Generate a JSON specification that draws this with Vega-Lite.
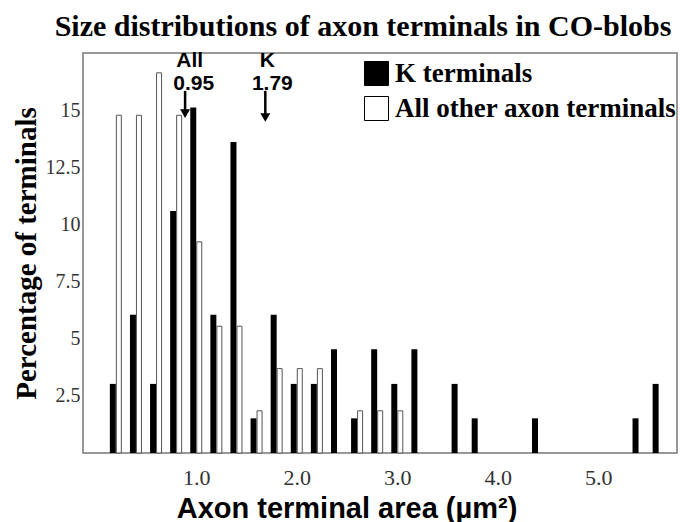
{
  "$schema": "https://vega.github.io/schema/vega-lite/v6.json",
  "width": 594,
  "height": 400,
  "autosize": {"type": "none"},
  "padding": {"left": 83, "top": 53, "right": 3, "bottom": 69},
  "background": "white",
  "title": {
    "text": "Size distributions of  axon terminals in CO-blobs",
    "font": "Liberation Serif",
    "fontWeight": "bold",
    "fontSize": 30,
    "color": "black",
    "anchor": "middle",
    "frame": "group",
    "dx": -17,
    "dy": 32,
    "offset": 16,
    "baseline": "alphabetic"
  },
  "config": {
    "view": {"stroke": "#777", "strokeWidth": 1.5},
    "axis": {"grid": false, "ticks": false, "tickSize": 0, "domain": false},
    "legend": {
      "orient": "none",
      "legendX": 280,
      "legendY": 7,
      "padding": 0,
      "symbolType": "square",
      "symbolSize": 576,
      "symbolStrokeColor": "black",
      "symbolStrokeWidth": 1,
      "labelFont": "Liberation Serif",
      "labelFontWeight": "bold",
      "labelFontSize": 27,
      "labelColor": "black",
      "labelOffset": 5,
      "rowPadding": 6,
      "labelLimit": 400
    }
  },
  "datasets": {
    "bars": [
      {"area": 0.2, "series": "K terminals", "pct": 3.03},
      {"area": 0.4, "series": "K terminals", "pct": 6.06},
      {"area": 0.6, "series": "K terminals", "pct": 3.03},
      {"area": 0.8, "series": "K terminals", "pct": 10.61},
      {"area": 1.0, "series": "K terminals", "pct": 15.15},
      {"area": 1.2, "series": "K terminals", "pct": 6.06},
      {"area": 1.4, "series": "K terminals", "pct": 13.64},
      {"area": 1.6, "series": "K terminals", "pct": 1.52},
      {"area": 1.8, "series": "K terminals", "pct": 6.06},
      {"area": 2.0, "series": "K terminals", "pct": 3.03},
      {"area": 2.2, "series": "K terminals", "pct": 3.03},
      {"area": 2.4, "series": "K terminals", "pct": 4.55},
      {"area": 2.6, "series": "K terminals", "pct": 1.52},
      {"area": 2.8, "series": "K terminals", "pct": 4.55},
      {"area": 3.0, "series": "K terminals", "pct": 3.03},
      {"area": 3.2, "series": "K terminals", "pct": 4.55},
      {"area": 3.6, "series": "K terminals", "pct": 3.03},
      {"area": 3.8, "series": "K terminals", "pct": 1.52},
      {"area": 4.4, "series": "K terminals", "pct": 1.52},
      {"area": 5.4, "series": "K terminals", "pct": 1.52},
      {"area": 5.6, "series": "K terminals", "pct": 3.03},
      {"area": 0.2, "series": "All other axon terminals", "pct": 14.81},
      {"area": 0.4, "series": "All other axon terminals", "pct": 14.81},
      {"area": 0.6, "series": "All other axon terminals", "pct": 16.67},
      {"area": 0.8, "series": "All other axon terminals", "pct": 14.81},
      {"area": 1.0, "series": "All other axon terminals", "pct": 9.26},
      {"area": 1.2, "series": "All other axon terminals", "pct": 5.56},
      {"area": 1.4, "series": "All other axon terminals", "pct": 5.56},
      {"area": 1.6, "series": "All other axon terminals", "pct": 1.85},
      {"area": 1.8, "series": "All other axon terminals", "pct": 3.70},
      {"area": 2.0, "series": "All other axon terminals", "pct": 3.70},
      {"area": 2.2, "series": "All other axon terminals", "pct": 3.70},
      {"area": 2.6, "series": "All other axon terminals", "pct": 1.85},
      {"area": 2.8, "series": "All other axon terminals", "pct": 1.85},
      {"area": 3.0, "series": "All other axon terminals", "pct": 1.85}
    ],
    "arrows": [
      {"name": "All", "x": 0.889, "top": 15.88, "head": 14.88},
      {"name": "K", "x": 1.687, "top": 15.88, "head": 14.71}
    ],
    "labels": [
      {"t": "All", "x": 0.935, "y": 16.93},
      {"t": "0.95", "x": 0.975, "y": 15.92},
      {"t": "K", "x": 1.708, "y": 16.93},
      {"t": "1.79", "x": 1.757, "y": 15.92}
    ]
  },
  "layer": [
    {
      "data": {"name": "bars"},
      "transform": [{"filter": {"field": "series", "equal": "K terminals"}}],
      "mark": {"type": "bar", "width": 6, "xOffset": -3},
      "encoding": {
        "x": {
          "field": "area", "type": "quantitative",
          "scale": {"domain": [-0.077, 5.733], "nice": false, "zero": false},
          "axis": {
            "values": [1, 2, 3, 4, 5], "format": ".1f",
            "labelFont": "Liberation Serif", "labelFontSize": 22, "labelColor": "#333",
            "labelPadding": 14, "labelBaseline": "top",
            "title": "Axon terminal area (µm²)",
            "titleFont": "Liberation Sans", "titleFontWeight": "bold", "titleFontSize": 29,
            "titleColor": "black", "titleX": 263.5, "titleY": 64, "titleBaseline": "alphabetic", "titleAlign": "center"
          }
        },
        "y": {
          "field": "pct", "type": "quantitative",
          "scale": {"domain": [0, 17.54], "nice": false},
          "axis": {
            "values": [2.5, 5, 7.5, 10, 12.5, 15], "format": ".3~g",
            "labelFont": "Liberation Serif", "labelFontSize": 20, "labelColor": "#333",
            "labelPadding": 3,
            "title": "Percentage of terminals",
            "titleFont": "Liberation Serif", "titleFontWeight": "bold", "titleFontSize": 29,
            "titleColor": "black", "titleX": -48, "titleY": 200, "titleBaseline": "alphabetic", "titleAlign": "center"
          }
        },
        "color": {
          "field": "series", "type": "nominal",
          "scale": {"domain": ["K terminals", "All other axon terminals"], "range": ["black", "white"]},
          "legend": {"title": null}
        }
      }
    },
    {
      "data": {"name": "bars"},
      "transform": [{"filter": {"field": "series", "equal": "All other axon terminals"}}],
      "mark": {"type": "bar", "width": 5, "xOffset": 3, "stroke": "#555", "strokeWidth": 1},
      "encoding": {
        "x": {"field": "area", "type": "quantitative"},
        "y": {"field": "pct", "type": "quantitative"},
        "color": {"field": "series", "type": "nominal"}
      }
    },
    {
      "data": {"name": "arrows"},
      "mark": {"type": "rule", "color": "black", "strokeWidth": 2.5},
      "encoding": {
        "x": {"field": "x", "type": "quantitative"},
        "y": {"field": "top", "type": "quantitative"},
        "y2": {"field": "head"}
      }
    },
    {
      "data": {"name": "arrows"},
      "mark": {"type": "point", "shape": "triangle-down", "filled": true, "color": "black", "size": 100, "opacity": 1},
      "encoding": {
        "x": {"field": "x", "type": "quantitative"},
        "y": {"field": "head", "type": "quantitative"}
      }
    },
    {
      "data": {"name": "labels"},
      "mark": {"type": "text", "font": "Liberation Sans", "fontWeight": "bold", "fontSize": 21, "color": "black", "align": "center", "baseline": "alphabetic"},
      "encoding": {
        "x": {"field": "x", "type": "quantitative"},
        "y": {"field": "y", "type": "quantitative"},
        "text": {"field": "t"}
      }
    }
  ]
}
